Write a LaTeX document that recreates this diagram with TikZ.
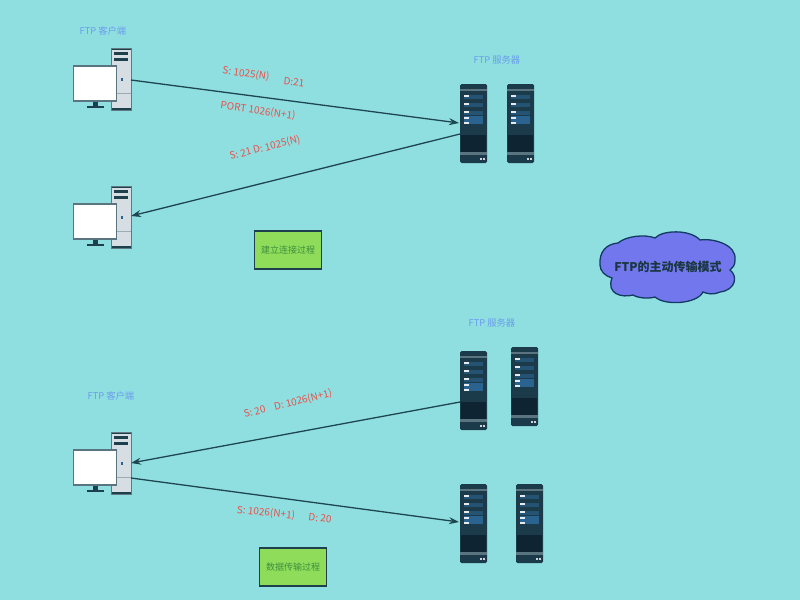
\documentclass[tikz,border=0pt]{standalone}
\usepackage{fontspec}
\setmainfont{Noto Sans CJK SC}
\definecolor{bgc}{HTML}{90DFE0}
\definecolor{towerc}{HTML}{D6DEE4}
\definecolor{darkc}{HTML}{1E3F4C}
\definecolor{srvc}{HTML}{1B3A4A}
\definecolor{srvd}{HTML}{0E2433}
\definecolor{srvb}{HTML}{2A6390}
\definecolor{srvg}{HTML}{5A7580}
\definecolor{redc}{HTML}{E8504C}
\definecolor{bluec}{HTML}{6A9CEC}
\definecolor{linec}{HTML}{1D4650}
\definecolor{greenc}{HTML}{8FDB5A}
\definecolor{greent}{HTML}{3F8F3F}
\definecolor{cloudc}{HTML}{7277EE}
\definecolor{cloude}{HTML}{123A62}
\usetikzlibrary{arrows.meta}
\tikzset{
  lbl/.style={font=\fontsize{10}{12}\selectfont,text=redc,inner sep=0pt},
  ttl/.style={font=\fontsize{9.3}{11}\selectfont,text=bluec,inner sep=0pt},
  boxn/.style={draw=darkc,line width=1.3pt,fill=greenc,text=greent,font=\fontsize{9}{11}\selectfont,minimum width=67pt,minimum height=38pt,inner sep=0pt},
  conn/.style={draw=linec,line width=1.3pt,-{Stealth[length=10pt,width=7pt]}}
}
\newcommand{\pcunit}[3]{%
  \begin{scope}[shift={(#2,#3)}]
    \fill[towerc] (38,0) rectangle (58,62);
    \fill[darkc] (38,0) rectangle (58,1.5);
    \fill[darkc] (38,60) rectangle (58,62);
    \draw[darkc!70,line width=.6pt] (38,0) rectangle (58,62);
    \fill[darkc] (41,4) rectangle (55,6.5);
    \fill[darkc] (41,10) rectangle (55,13);
    \fill[srvb] (48,30) rectangle (50,33);
    \draw[srvg!60,line width=.5pt] (38,45) -- (58,45);
    \fill[darkc] (20,53) rectangle (25,58);
    \fill[darkc] (14,57.5) rectangle (31,59.5);
    \node[draw=srvg,line width=1.1pt,fill=white,minimum width=43pt,minimum height=35pt,inner sep=0pt] (#1) at (22,35.5) {};
    \coordinate (#1r) at (58,32);
  \end{scope}}
\newcommand{\srvunit}[3]{%
  \begin{scope}[shift={(#2,#3)}]
    \node[fill=srvc,rounded corners=1.5pt,minimum width=27pt,minimum height=79pt,inner sep=0pt] (#1) at (13.5,39.5) {};
    \fill[srvg] (0,5) rectangle (27,7);
    \fill[srvd] (1,51) rectangle (26,68);
    \fill[srvg] (0,68) rectangle (27,71);
    \fill[white!80!srvc] (20,74) rectangle (21.5,76);
    \fill[white!80!srvc] (23,74) rectangle (24.5,76);
    \foreach \yy in {12,20,28}{
      \fill[srvb!60!srvc] (4,\yy-1.5) rectangle (23,\yy+3);
      \fill[white!90!srvc] (4,\yy-1) rectangle (9,\yy+.5);
    }
    \fill[srvb] (4,32) rectangle (23,40);
    \fill[white!90!srvc] (4,33) rectangle (9,34.5);
    \fill[white!90!srvc] (4,38) rectangle (9,39.5);
  \end{scope}}
\begin{document}
\begin{tikzpicture}[x=1pt,y=-1pt]
\useasboundingbox (0,0) rectangle (800,600);
\fill[bgc] (0,0) rectangle (800,600);

\pcunit{pca}{73}{48}
\pcunit{pcb}{73}{186}
\pcunit{pcc}{73}{432}

\srvunit{sa}{460}{84}
\srvunit{sb}{507}{84}
\srvunit{sc}{460}{351}
\srvunit{sd}{511}{347}
\srvunit{se}{460}{484}
\srvunit{sf}{516}{484}

\coordinate (sa1) at (459,123);
\coordinate (sa2) at (460,134);
\coordinate (sc1) at (460,402);
\coordinate (se1) at (459,522);
\coordinate (pcb1) at (131,216);
\coordinate (pcc1) at (131,463);
\coordinate (pcc2) at (131,478);

\draw[conn] (pcar) -- (sa1);
\draw[conn] (sa2) -- (pcb1);
\draw[conn] (sc1) -- (pcc1);
\draw[conn] (pcc2) -- (se1);

\node[ttl] (t1) at (103,31) {FTP 客户端};
\node[ttl] (t2) at (497,60) {FTP 服务器};
\node[ttl] (t3) at (492,323) {FTP 服务器};
\node[ttl] (t4) at (111,396) {FTP 客户端};

\node[lbl,rotate=-8] (l1) at (246,74) {S: 1025(N)};
\node[lbl,rotate=-6] (l2) at (294,82) {D:21};
\node[lbl,rotate=-8] (l3) at (258,111) {PORT 1026(N+1)};
\node[lbl,rotate=14] (l4) at (265,148) {S: 21 D: 1025(N)};
\node[lbl,rotate=14] (l5) at (288,404) {S: 20\hspace{7pt} D: 1026(N+1)};
\node[lbl,rotate=-6] (l6) at (266,513) {S: 1026(N+1)};
\node[lbl,rotate=-6] (l7) at (320,518) {D: 20};

\node[boxn] (b1) at (288,250) {建立连接过程};
\node[boxn] (b2) at (293,567) {数据传输过程};

\draw[draw=cloude,line width=1.3pt,fill=cloudc]
  (600,265) .. controls (599,252) and (606,244) .. (618,243)
  .. controls (626,236) and (645,234) .. (655,238)
  .. controls (662,230) and (690,229) .. (700,240)
  .. controls (712,238) and (737,244) .. (735,260)
  .. controls (735,265) and (733,268) .. (730,270)
  .. controls (738,276) and (736,290) .. (720,292)
  .. controls (713,295) and (708,294) .. (703,292)
  .. controls (697,304) and (665,306) .. (655,297)
  .. controls (648,299) and (638,298) .. (633,295)
  .. controls (622,298) and (606,294) .. (612,278)
  .. controls (605,276) and (600,271) .. (600,265) -- cycle;
\node[inner sep=0pt,text=darkc!85!black,font=\fontsize{12}{14}\selectfont\bfseries] (c) at (668,267) {FTP的主动传输模式};
\end{tikzpicture}
\end{document}
